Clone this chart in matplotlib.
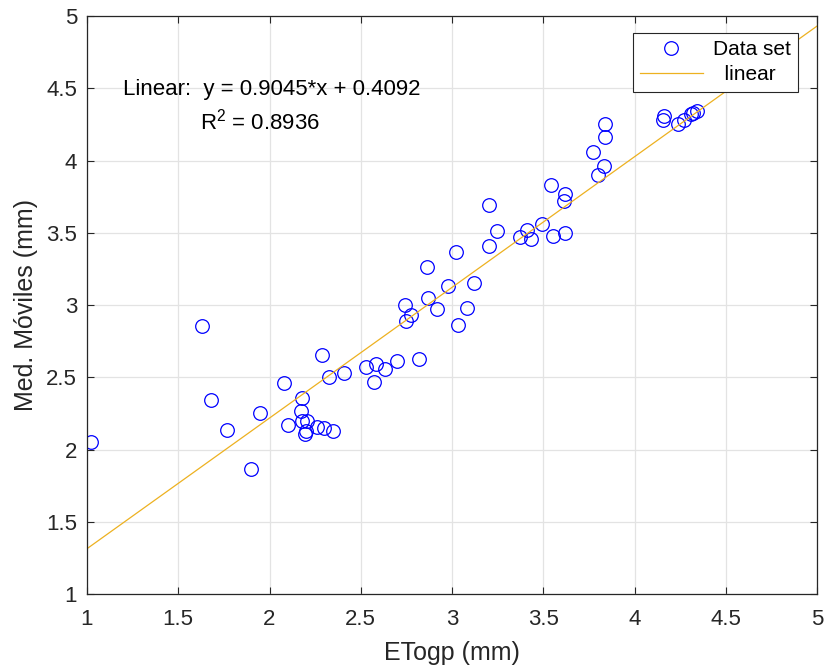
import numpy as np
import matplotlib
matplotlib.use('Agg')
import matplotlib.pyplot as plt

plt.rcParams['font.family'] = ['Liberation Sans', 'DejaVu Sans']
plt.rcParams['mathtext.fontset'] = 'custom'
plt.rcParams['mathtext.rm'] = 'Liberation Sans'

# Datos (ETogp vs Med. Móviles)
etogp = [1.02, 1.63, 1.68, 1.765, 1.90, 1.95, 2.08, 2.10, 2.17, 2.18,
         2.18, 2.205, 2.20, 2.195, 2.26, 2.30, 2.35, 2.29, 2.326, 2.41,
         2.53, 2.585, 2.57, 2.63, 2.70, 2.82, 2.75, 2.775, 2.74, 2.87,
         2.92, 3.03, 3.08, 2.98, 3.12, 2.86, 3.02, 3.20, 3.20, 3.245,
         3.37, 3.43, 3.41, 3.49, 3.55, 3.62, 3.54, 3.615, 3.617, 3.80,
         3.83, 3.77, 3.84, 3.84, 4.155, 4.16, 4.24, 4.27, 4.31, 4.32, 4.34]
med_moviles = [2.05, 2.855, 2.34, 2.135, 1.865, 2.25, 2.46, 2.17, 2.27, 2.36,
               2.20, 2.20, 2.13, 2.105, 2.155, 2.147, 2.126, 2.655, 2.50, 2.53,
               2.57, 2.59, 2.465, 2.56, 2.61, 2.63, 2.89, 2.93, 2.998, 3.05,
               2.97, 2.864, 2.98, 3.13, 3.15, 3.26, 3.37, 3.41, 3.69, 3.51,
               3.47, 3.46, 3.52, 3.56, 3.48, 3.50, 3.83, 3.72, 3.77, 3.90,
               3.96, 4.06, 4.16, 4.25, 4.28, 4.305, 4.25, 4.28, 4.32, 4.33, 4.345]

# Ajuste lineal
slope = 0.9045
intercept = 0.4092
r2 = 0.8936

fig = plt.figure(figsize=(8.28, 6.69), dpi=100)
ax = fig.add_axes([0.105, 0.112, 0.882, 0.864])

ax.plot(etogp, med_moviles, 'o', color='blue', markerfacecolor='none',
        markersize=9.8, markeredgewidth=0.9, label='Data set')
xl = np.array([1, 5])
ax.plot(xl, slope * xl + intercept, '-', color='#EDB120', linewidth=0.9,
        label='  linear')

ax.set_xlim(1, 5)
ax.set_ylim(1, 5)
ax.set_xticks(np.arange(1, 5.01, 0.5))
ax.set_yticks(np.arange(1, 5.01, 0.5))
ax.set_xticklabels(['1', '1.5', '2', '2.5', '3', '3.5', '4', '4.5', '5'])
ax.set_yticklabels(['1', '1.5', '2', '2.5', '3', '3.5', '4', '4.5', '5'])

ax.grid(True, color='#e3e3e3', linewidth=0.9)
ax.set_axisbelow(True)
ax.tick_params(direction='in', top=True, right=True, labelsize=16,
               color='#262626', labelcolor='#262626', length=5, pad=7)
ax.tick_params(axis='x', pad=10.5)
for s in ax.spines.values():
    s.set_color('#262626')
    s.set_linewidth(0.9)

ax.set_xlabel('ETogp (mm)', fontsize=18, color='#262626', labelpad=8)
ax.set_ylabel('Med. Móviles (mm)', fontsize=18, color='#262626', labelpad=6)

ax.text(1.197, 4.495, 'Linear:  y = %.4f*x + %.4f' % (slope, intercept),
        fontsize=16, va='center', ha='left')
ax.text(1.62, 4.27, 'R$^2$ = %.4f' % r2, fontsize=16, va='center', ha='left')

leg = ax.legend(loc='upper right', bbox_to_anchor=(0.974, 0.971),
                borderaxespad=0, fontsize=15, fancybox=False, framealpha=1,
                edgecolor='#262626', borderpad=0.35, handlelength=3.0,
                labelspacing=0.3, handletextpad=0.5)
leg.get_frame().set_linewidth(0.8)

plt.savefig('out.png', dpi=100)
